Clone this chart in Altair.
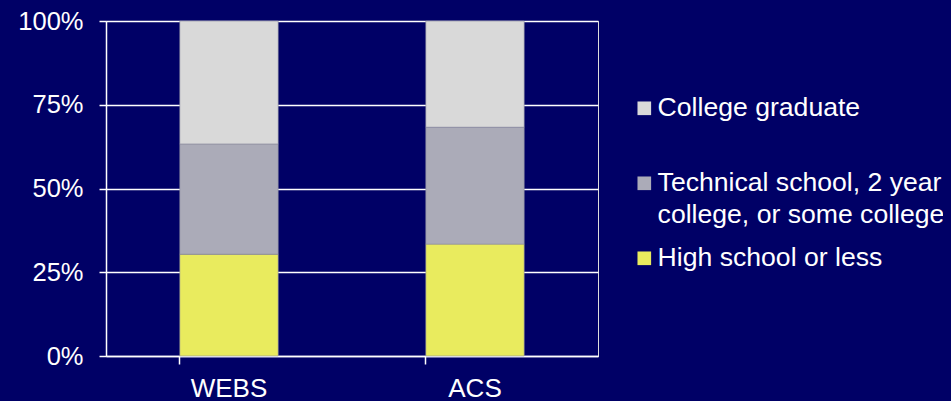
import altair as alt
import pandas as pd

sources = ["WEBS", "ACS"]
levels = ["High school or less", "Technical school, 2 year|college, or some college", "College graduate"]
webs_pct = [30.4, 32.9, 36.7]
acs_pct = [33.4, 34.9, 31.7]
level_colors = ["#E9EB5E", "#ABABB8", "#D9D9D9"]
y_ticks = [0, 25, 50, 75, 100]

rows = []
for src, vals in zip(sources, [webs_pct, acs_pct]):
    for i, (lvl, v) in enumerate(zip(levels, vals)):
        rows.append({"source": src, "level": lvl, "pct": v, "order": i})
df = pd.DataFrame(rows)

font = "Liberation Sans"
navy = "#000066"

chart = alt.Chart(df).mark_bar(stroke="#8c8ca0", strokeWidth=0.6).encode(
    x=alt.X("source:N", sort=sources, title=None,
            scale=alt.Scale(paddingInner=0.6, paddingOuter=0.3),
            axis=alt.Axis(labelAngle=0, labelFontSize=26, labelColor="white", labelFont=font,
                          domainColor="white", domainWidth=1.5, tickColor="white", tickWidth=1.5,
                          tickSize=8, bandPosition=0, labelPadding=11, grid=False)),
    y=alt.Y("pct:Q", stack="zero", title=None,
            scale=alt.Scale(domain=[0, 100], nice=False),
            axis=alt.Axis(values=y_ticks, labelExpr="datum.value + '%'", labelFontSize=25.5,
                          labelColor="white", labelFont=font, domainColor="white", domainWidth=1.5,
                          tickColor="white", tickWidth=1.5, tickSize=7, labelPadding=16,
                          grid=True, gridColor="white", gridWidth=1.5, gridOpacity=1)),
    color=alt.Color("level:N", scale=alt.Scale(domain=levels[::-1], range=level_colors[::-1]),
                    legend=alt.Legend(title=None, orient="none", legendX=525, legendY=74,
                                      symbolType="square", symbolSize=186, symbolStrokeWidth=0,
                                      labelFontSize=26.6, labelColor="white", labelFont=font,
                                      labelLimit=500, labelOffset=0, rowPadding=16,
                                      labelExpr="split(datum.label + (indexof(datum.label, '|') < 0 ? '|' : ''), '|')")),
    order=alt.Order("order:Q", sort="ascending"),
).properties(
    width=492, height=335,
    autosize=alt.AutoSizeParams(type="none"),
    padding={"left": 98, "top": 13, "right": 345, "bottom": 45},
    background=navy,
).configure_view(stroke=None).configure(
    style={"guide-label": {"lineHeight": 32}}
)

chart.save("out.html", embed_options={
    "renderer": "svg", "actions": False,
    "defaultStyle": "html, body { background: #000066; }",
})
